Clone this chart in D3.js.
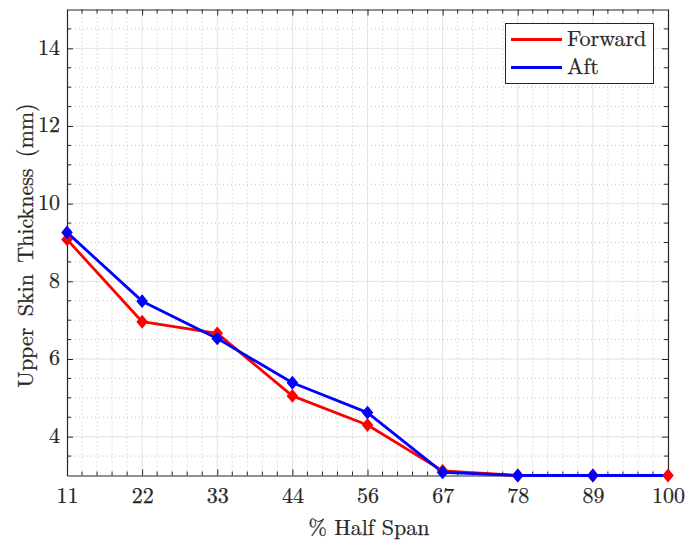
<!DOCTYPE html>
<html>
<head>
<meta charset="utf-8">
<script src="https://cdn.jsdelivr.net/npm/d3@7"></script>
<style>
  html, body { margin: 0; padding: 0; background: #fff; }
  svg { display: block; }
</style>
</head>
<body>
<svg id="chart" width="688" height="544"></svg>
<script>
// Span stations (% half span) and skin thickness per stringer panel (mm)
const spanStations = [11, 22, 33, 44, 56, 67, 78, 89, 100];
const forwardThickness = [9.08, 6.96, 6.66, 5.05, 4.30, 3.12, 3.0, 3.0, 3.0];
const aftThickness = [9.26, 7.49, 6.53, 5.39, 4.62, 3.08, 3.0, 3.0, 3.0];
const yTicks = [4, 6, 8, 10, 12, 14];
const seriesNames = ["Forward", "Aft"];

const FONT = '"Latin Modern Roman", "CMU Serif", "Liberation Serif", serif';
const INK = "#262626";

const svg = d3.select("#chart");
const plotLeft = 67, plotRight = 668, plotTop = 9.5, plotBottom = 475.5;

const x = d3.scaleLinear().domain([0, spanStations.length - 1]).range([plotLeft, plotRight]);
const y = d3.scaleLinear().domain([3, 15]).range([plotBottom, plotTop]);

// Minor tick positions: 5 divisions per x interval, 0.5 steps in y
const xMinor = d3.range(0, spanStations.length - 1, 0.2).filter(v => Math.abs(v - Math.round(v)) > 1e-6);
const yMinor = d3.range(3.5, 15, 0.5).filter(v => !yTicks.includes(v));

// Text styling shared by every label: Computer-Modern-like face, slightly emboldened
function textStyle(sel, size) {
  sel.style("font-family", FONT).style("font-size", size + "px")
    .attr("fill", INK).attr("stroke", INK).attr("stroke-width", 0.25);
}

const grid = svg.append("g");
// minor grid (dotted)
grid.append("g").selectAll("line").data(xMinor).join("line")
  .attr("x1", d => x(d)).attr("x2", d => x(d)).attr("y1", plotTop).attr("y2", plotBottom)
  .attr("stroke", "#c4c4c4").attr("stroke-width", 1).attr("stroke-dasharray", "1,3");
grid.append("g").selectAll("line").data(yMinor).join("line")
  .attr("x1", plotLeft).attr("x2", plotRight).attr("y1", d => y(d)).attr("y2", d => y(d))
  .attr("stroke", "#c4c4c4").attr("stroke-width", 1).attr("stroke-dasharray", "1,3");
// major grid (solid)
grid.append("g").selectAll("line").data(d3.range(1, spanStations.length - 1)).join("line")
  .attr("x1", d => x(d)).attr("x2", d => x(d)).attr("y1", plotTop).attr("y2", plotBottom)
  .attr("stroke", "#e2e2e2").attr("stroke-width", 1);
grid.append("g").selectAll("line").data(yTicks).join("line")
  .attr("x1", plotLeft).attr("x2", plotRight).attr("y1", d => y(d)).attr("y2", d => y(d))
  .attr("stroke", "#e2e2e2").attr("stroke-width", 1);

// Axes on all four sides, ticks pointing inward
const tickFmt = i => spanStations[i];
const xBottom = d3.axisBottom(x).tickValues(d3.range(spanStations.length)).tickFormat(tickFmt).tickSizeInner(-6).tickSizeOuter(0).tickPadding(12);
const xTop = d3.axisTop(x).tickValues(d3.range(spanStations.length)).tickFormat("").tickSizeInner(-6).tickSizeOuter(0);
const yLeft = d3.axisLeft(y).tickValues(yTicks).tickFormat(d3.format("d")).tickSizeInner(-6).tickSizeOuter(0).tickPadding(7);
const yRight = d3.axisRight(y).tickValues(yTicks).tickFormat("").tickSizeInner(-6).tickSizeOuter(0);

function styleAxis(g) {
  g.attr("font-family", null).attr("font-size", null);
  g.select(".domain").attr("stroke", INK).attr("stroke-width", 1.2);
  g.selectAll(".tick line").attr("stroke", INK).attr("stroke-width", 1);
  g.selectAll(".tick text").call(textStyle, 22);
}

svg.append("g").attr("transform", `translate(0,${plotBottom})`).call(xBottom).call(styleAxis);
svg.append("g").attr("transform", `translate(0,${plotTop})`).call(xTop).call(styleAxis);
svg.append("g").attr("transform", `translate(${plotLeft},0)`).call(yLeft).call(styleAxis)
  .selectAll(".tick text").attr("dy", "0.26em");
svg.append("g").attr("transform", `translate(${plotRight},0)`).call(yRight).call(styleAxis);

// minor ticks
function minorTicks(g, vals, orient) {
  g.selectAll("line").data(vals).join("line").each(function(d) {
    const s = d3.select(this).attr("stroke", INK).attr("stroke-width", 1);
    if (orient === "bottom") s.attr("x1", x(d)).attr("x2", x(d)).attr("y1", plotBottom).attr("y2", plotBottom - 4);
    if (orient === "top") s.attr("x1", x(d)).attr("x2", x(d)).attr("y1", plotTop).attr("y2", plotTop + 4);
    if (orient === "left") s.attr("y1", y(d)).attr("y2", y(d)).attr("x1", plotLeft).attr("x2", plotLeft + 4);
    if (orient === "right") s.attr("y1", y(d)).attr("y2", y(d)).attr("x1", plotRight).attr("x2", plotRight - 4);
  });
}
const mt = svg.append("g");
minorTicks(mt.append("g"), xMinor, "bottom");
minorTicks(mt.append("g"), xMinor, "top");
minorTicks(mt.append("g"), yMinor, "left");
minorTicks(mt.append("g"), yMinor, "right");

// Axis labels
svg.append("text").attr("x", 369).attr("y", 535)
  .attr("text-anchor", "middle").call(textStyle, 22)
  .text("% Half Span");
svg.append("text").attr("transform", `translate(33,${(plotTop + plotBottom) / 2 + 3}) rotate(-90)`)
  .attr("text-anchor", "middle").call(textStyle, 22).style("word-spacing", "4px")
  .text("Upper Skin Thickness (mm)");

// Series
const series = [
  { name: seriesNames[0], values: forwardThickness, color: "#ff0000", markerCount: forwardThickness.length },
  { name: seriesNames[1], values: aftThickness, color: "#0000ff", markerCount: aftThickness.length - 1 }
];
const line = d3.line().x((d, i) => x(i)).y(d => y(d));
const diamond = (cx, cy) => `M${cx},${cy - 6}L${cx + 5},${cy}L${cx},${cy + 6}L${cx - 5},${cy}Z`;

const plot = svg.append("g");
series.forEach(s => {
  plot.append("path").datum(s.values).attr("d", line)
    .attr("fill", "none").attr("stroke", s.color).attr("stroke-width", 2.8).attr("stroke-linejoin", "round");
});
series.forEach(s => {
  plot.append("g").selectAll("path").data(s.values.slice(0, s.markerCount)).join("path")
    .attr("d", (d, i) => diamond(x(i), y(d))).attr("fill", s.color).attr("stroke", s.color).attr("stroke-width", 1.2);
});

// Legend
const lg = svg.append("g");
lg.append("rect").attr("x", 505.5).attr("y", 23.5).attr("width", 148).attr("height", 60)
  .attr("fill", "#fff").attr("stroke", INK).attr("stroke-width", 1);
series.forEach((s, i) => {
  const cy = 39.5 + i * 28;
  lg.append("line").attr("x1", 511).attr("x2", 562).attr("y1", cy).attr("y2", cy)
    .attr("stroke", s.color).attr("stroke-width", 2.8);
  lg.append("text").attr("x", 567).attr("y", cy + 6.5).call(textStyle, 22).text(s.name);
});
</script>
</body>
</html>
